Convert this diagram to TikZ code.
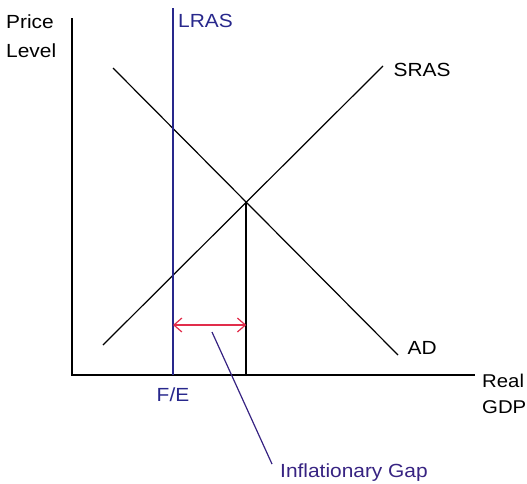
\documentclass[tikz,border=0pt]{standalone}
\usepackage{fontspec}
\setmainfont[FakeStretch=1.1]{Liberation Sans}
\usetikzlibrary{arrows.meta,calc}
\definecolor{lrasblue}{RGB}{40,40,140}
\definecolor{gapred}{RGB}{225,45,75}
\definecolor{gapnavy}{RGB}{55,35,130}

\begin{document}
\begin{tikzpicture}[x=1pt,y=-1pt,
    curve/.style={line width=1.2pt},
    lbl/.style={inner sep=0pt,font=\fontsize{19}{28}\selectfont}]
    \useasboundingbox (0,0) rectangle (527,483);
    % axes
    \coordinate (O) at (72,375);
    \coordinate (ytop) at (72,18);
    \coordinate (xend) at (475,375);
    \draw[line width=1.6pt] (ytop) -- (O) -- (xend);
    % base of a two line node is its last line
    \node[lbl,anchor=base west,align=left,font=\fontsize{19}{29}\selectfont] (ylab) at (6,57) {Price\\Level};
    \node[lbl,anchor=base west,align=left,font=\fontsize{18.5}{26}\selectfont] (xlab) at (482,413) {Real\\GDP};
    % curves
    \coordinate (ad1) at (113,68);
    \coordinate (ad2) at (398,355);
    \coordinate (sr1) at (103,345);
    \coordinate (sr2) at (383,66);
    \draw[curve] (ad1) -- (ad2) node[lbl,anchor=base west,xshift=9pt,yshift=1pt] (ad) {AD};
    \draw[curve] (sr1) -- (sr2) node[lbl,anchor=base west,xshift=10pt,yshift=-10pt] (sras) {SRAS};
    \coordinate (E) at (intersection of ad1--ad2 and sr1--sr2);
    % long run supply
    \draw[lrasblue,line width=1.6pt] (173,8) coordinate (lr1) -- (173,375) coordinate (fe);
    \node[lbl,lrasblue,anchor=base west] (lras) at (178,27) {LRAS};
    \node[lbl,lrasblue,anchor=base] (felab) at (173,401) {F/E};
    \draw[line width=1.6pt] (E) -- (E |- O) coordinate (ye);
    % gap
    \draw[gapred,line width=1.2pt,{Straight Barb[length=8pt,width=14pt]}-{Straight Barb[length=8pt,width=14pt]}]
        (fe |- 0,325) -- (ye |- 0,325);
    \node[lbl,gapnavy,anchor=base west] (gap) at (280,477) {Inflationary Gap};
    \draw[gapnavy,line width=1.2pt] (212,332) coordinate (ptr) -- ([xshift=-8pt,yshift=-1pt]gap.north west);
\end{tikzpicture}
\end{document}
